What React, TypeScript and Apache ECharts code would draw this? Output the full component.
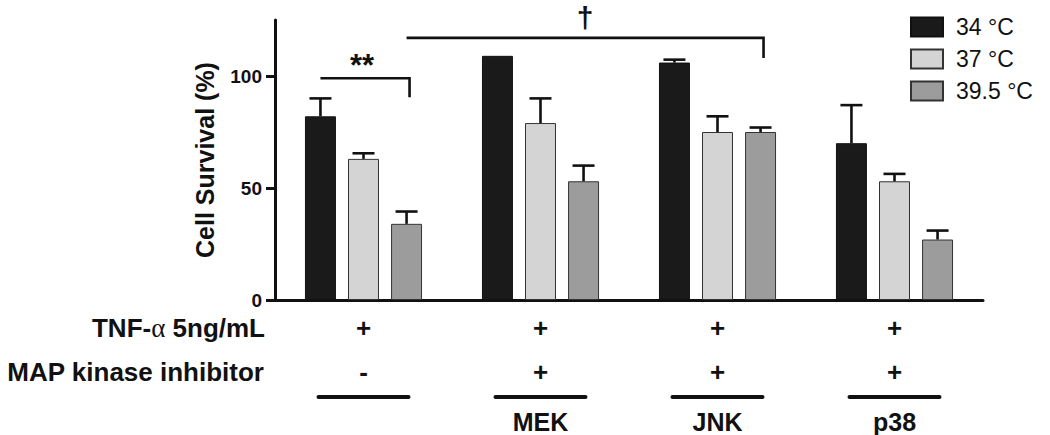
import React, { useEffect, useRef } from "react";
import * as echarts from "echarts";

const groups = ["", "MEK", "JNK", "p38"];
const tnfRow = ["+", "+", "+", "+"];
const inhibitorRow = ["-", "+", "+", "+"];
const seriesNames = ["34 °C", "37 °C", "39.5 °C"];
const means34 = [82, 109, 106, 70];
const err34 = [8, 0, 1.3, 17];
const means37 = [63, 79, 75, 53];
const err37 = [2.5, 11, 7, 3.3];
const means395 = [34, 53, 75, 27];
const err395 = [5.5, 7, 2, 4];
const yTicks = [0, 50, 100];
const rowHeaders = ["TNF-α 5ng/mL", "MAP kinase inhibitor"];
// significance brackets: [category, bar index] start/end, bracket value, drop value
const brackets = [
  { label: "**", from: [0, 0], to: [0, 2], level: 99, drop: 90.5 },
  { label: "†", from: [0, 2], to: [2, 2], level: 117, drop: 108 },
];

const colors = ["#1a1a1a", "#d4d4d4", "#9c9c9c"];
const FONT = "'Liberation Sans', Arial, Helvetica, sans-serif";
const BAR_W = 0.175;
const BAR_GAP = 0.39;

export default function App() {
  const ref = useRef<HTMLDivElement>(null);
  useEffect(() => {
    document.body.style.margin = "0";
    const chart = echarts.init(ref.current!, null, { renderer: "svg" });
    const means = [means34, means37, means395];
    const errs = [err34, err37, err395];

    const barSeries = seriesNames.map((name, i) => ({
      name,
      type: "bar",
      barWidth: BAR_W * 100 + "%",
      barGap: BAR_GAP * 100 + "%",
      data: means[i],
      itemStyle: {
        color: colors[i],
        borderColor: i === 0 ? "#111" : "#333",
        borderWidth: 1,
      },
      z: 2,
    }));

    const errSeries = seriesNames.map((name, i) => ({
      name: "err-" + name,
      type: "custom",
      z: 3,
      data: means[i].map((v, k) => [k, v, errs[i][k]]),
      encode: { x: 0, y: 1 },
      renderItem: (params: any, api: any) => {
        const cat = api.value(0);
        const v = api.value(1);
        const e = api.value(2);
        if (!e) return { type: "group", children: [] };
        const base = api.coord([cat, v]);
        const top = api.coord([cat, v + e]);
        const band = api.size([1, 0])[0];
        const x = base[0] + (i - 1) * band * BAR_W * (1 + BAR_GAP);
        const cap = 11;
        const st = { stroke: "#111", lineWidth: 2.6 };
        return {
          type: "group",
          children: [
            { type: "line", shape: { x1: x, y1: base[1], x2: x, y2: top[1] }, style: st },
            { type: "line", shape: { x1: x - cap, y1: top[1], x2: x + cap, y2: top[1] }, style: st },
          ],
        };
      },
    }));

    chart.setOption({
      animation: false,
      backgroundColor: "#ffffff",
      textStyle: { fontFamily: FONT },
      grid: { left: 275, top: 20, right: 67, bottom: 135, containLabel: false },
      legend: {
        data: seriesNames,
        orient: "vertical",
        left: 910,
        top: 15,
        padding: 0,
        itemWidth: 32,
        itemHeight: 19,
        itemGap: 8,
        icon: "rect",
        selectedMode: false,
        textStyle: { fontSize: 23, color: "#111", fontFamily: FONT, padding: [0, 0, 0, 8], lineHeight: 24 },
      },
      xAxis: {
        type: "category",
        data: groups,
        axisLine: { show: true, lineStyle: { color: "#111", width: 3 } },
        axisTick: { show: false },
        axisLabel: {
          interval: 0,
          margin: 6,
          formatter: (_v: string, idx: number) =>
            `{p|${tnfRow[idx]}}\n{p|${inhibitorRow[idx]}}\n{n|${groups[idx] || " "}}`,
          rich: {
            p: { fontSize: 26, fontWeight: "bold", lineHeight: 44, color: "#111", fontFamily: FONT },
            n: { fontSize: 25, fontWeight: "bold", lineHeight: 56, color: "#111", fontFamily: FONT },
          },
        },
      },
      yAxis: {
        type: "value",
        min: 0,
        max: 125,
        interval: 50,
        name: "Cell Survival (%)",
        nameLocation: "middle",
        nameGap: 58,
        nameTextStyle: { fontSize: 25, fontWeight: "bold", color: "#111", fontFamily: FONT },
        axisLine: { show: true, lineStyle: { color: "#111", width: 3 } },
        axisTick: { show: true, length: 9, lineStyle: { color: "#111", width: 3 }, customValues: yTicks },
        axisLabel: { customValues: yTicks, fontSize: 19, fontWeight: "bold", color: "#111", margin: 13, fontFamily: FONT },
        splitLine: { show: false },
      },
      series: [...barSeries, ...errSeries],
    });

    // annotations placed from data coordinates
    const c0 = chart.convertToPixel({ xAxisIndex: 0 }, 0) as number;
    const c1 = chart.convertToPixel({ xAxisIndex: 0 }, 1) as number;
    const band = c1 - c0;
    const step = band * BAR_W * (1 + BAR_GAP);
    const barX = (cat: number, bar: number) =>
      (chart.convertToPixel({ xAxisIndex: 0 }, cat) as number) + (bar - 1) * step;
    const yPix = (v: number) => chart.convertToPixel({ yAxisIndex: 0 }, v) as number;
    const zeroY = yPix(0);

    const graphic: any[] = [];
    brackets.forEach((b) => {
      const x1 = barX(b.from[0], b.from[1]);
      const x2 = barX(b.to[0], b.to[1]) + 3;
      const y = yPix(b.level);
      const star = b.label === "**";
      graphic.push({
        type: "polyline",
        shape: { points: [[x1, y], [x2, y], [x2, yPix(b.drop)]] },
        style: { stroke: "#111", lineWidth: 2.6, fill: "none" },
      });
      graphic.push({
        type: "text",
        x: (x1 + x2) / 2 - (star ? 3 : 0),
        y: star ? y + 3 : y - 5,
        style: {
          text: b.label,
          fontSize: star ? 31 : 30,
          fontWeight: "bold",
          fill: "#111",
          fontFamily: FONT,
          textAlign: "center",
          textVerticalAlign: "bottom",
        },
      });
    });
    groups.forEach((_g, k) => {
      const cx = barX(k, 1);
      graphic.push({
        type: "line",
        shape: { x1: cx - 45, y1: zeroY + 97, x2: cx + 45, y2: zeroY + 97 },
        style: { stroke: "#111", lineWidth: 4, lineCap: "round" },
      });
    });
    graphic.push({
      type: "text",
      x: 265,
      y: zeroY + 28,
      style: {
        text: "{b|TNF-}{a|α}{b| 5ng/mL}",
        textAlign: "right",
        textVerticalAlign: "middle",
        rich: {
          b: { fontSize: 26, fontWeight: "bold", fill: "#111", fontFamily: FONT },
          a: { fontSize: 27, fill: "#111", fontFamily: "'Liberation Serif', 'DejaVu Serif', serif" },
        },
      },
    });
    graphic.push({
      type: "text",
      x: 264,
      y: zeroY + 72,
      style: {
        text: rowHeaders[1],
        textAlign: "right",
        textVerticalAlign: "middle",
        fontSize: 26,
        fontWeight: "bold",
        fill: "#111",
        fontFamily: FONT,
      },
    });
    chart.setOption({ graphic });

    return () => chart.dispose();
  }, []);
  return <div ref={ref} style={{ width: 1050, height: 435 }} />;
}
